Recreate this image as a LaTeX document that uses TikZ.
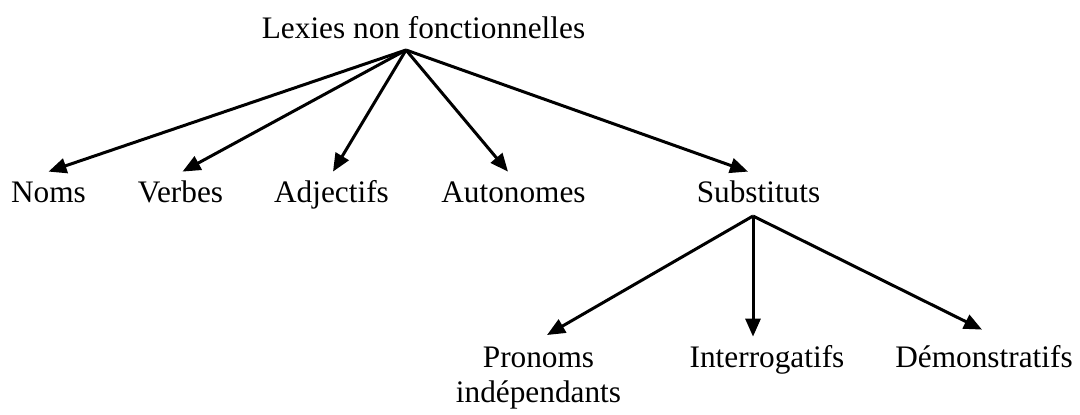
\documentclass[tikz,border=0pt]{standalone}
\usepackage{fontspec}
\setmainfont{Liberation Serif}
\usetikzlibrary{arrows.meta}

\begin{document}
\begin{tikzpicture}[
  x=0.5pt, y=-0.5pt,
  label/.style={anchor=base, inner xsep=0pt, inner ysep=4pt,
    text height=11pt, text depth=3.5pt,
    font=\fontsize{15.65pt}{17.5pt}\selectfont},
  twoline/.style={anchor=base, inner sep=0pt, align=center,
    font=\fontsize{15.65pt}{17.5pt}\selectfont},
  branch/.style={line width=1.5pt, -{Triangle[length=9pt,width=7.5pt]}}
]
\useasboundingbox (0,0) rectangle (1080,414);

% root and its direct children
\node[label] (root) at (423.5,38) {Lexies non fonctionnelles};
\coordinate (rootfork) at (406,50);

\node[label] (noms)  at (48.5,202)  {Noms};
\node[label] (verbes) at (180.5,202) {Verbes};
\node[label] (adj)   at (331.5,202) {Adjectifs};
\node[label] (auto)  at (513.5,202) {Autonomes};
\node[label] (subst) at (758.5,202) {Substituts};

\draw[branch] (rootfork) -- (noms.north);
\draw[branch] (rootfork) -- ([xshift=1pt]verbes.north);
\draw[branch] (rootfork) -- ([xshift=0.75pt]adj.north);
\draw[branch] (rootfork) -- ([xshift=-2.75pt]auto.north);
\draw[branch] (rootfork) -- ([xshift=-5.25pt]subst.north);

% kinds of substituts
\coordinate (substfork) at (753,216);

% base anchor of a two-line node sits on its last line
\node[twoline] (pron) at (538.5,402) {Pronoms\\indépendants};
\node[label] (inter) at (767,367) {Interrogatifs};
\node[label] (demo)  at (984,367) {Démonstratifs};

\draw[branch] (substfork) -- ([xshift=4.25pt,yshift=33.5pt]pron.base);
\draw[branch] (substfork) -- ([xshift=-7pt]inter.north);
\draw[branch] (substfork) -- ([xshift=-1pt,yshift=3.5pt]demo.north);
\end{tikzpicture}
\end{document}
